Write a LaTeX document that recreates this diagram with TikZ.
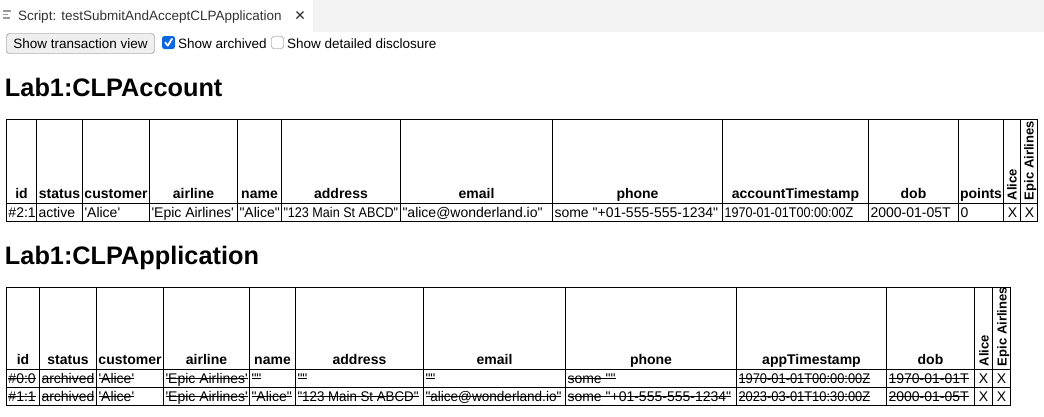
\documentclass[tikz,border=0pt]{standalone}
\usepackage{graphicx}
\usepackage{fontspec}
\newfontfamily\uifont{Liberation Sans}
\definecolor{tabbg}{HTML}{F3F3F3}
\definecolor{tabtext}{HTML}{333333}
\definecolor{btnfill}{HTML}{EFEFEF}
\definecolor{btnline}{HTML}{767676}
\definecolor{chkblue}{HTML}{0B67DF}
\definecolor{icongray}{HTML}{9A9A9A}
\newcommand{\strk}[1]{\setbox0\hbox{#1}\rlap{\rule[0.3em]{\wd0}{0.9pt}}\box0}
\tikzset{
  every node/.style={inner sep=0pt, outer sep=0pt},
  hdr/.style={font=\uifont\fontsize{14}{16}\selectfont\bfseries, anchor=base},
  rhdr/.style={font=\uifont\fontsize{13}{15}\selectfont\bfseries, anchor=base west, rotate=90},
  cell/.style={font=\uifont\fontsize{14}{16}\selectfont, anchor=base west},
  xcell/.style={font=\uifont\fontsize{14}{16}\selectfont, anchor=base},
  gridline/.style={line width=1pt, draw=black},
  htitle/.style={font=\uifont\fontsize{25.3}{30}\selectfont\bfseries, anchor=base west},
  ui/.style={font=\uifont\fontsize{13.5}{16}\selectfont, anchor=base west},
}
\begin{document}
\begin{tikzpicture}[x=1pt,y=-1pt]
\useasboundingbox (0,0) rectangle (1044,416);
\fill[white] (0,0) rectangle (1044,416);
% tab bar
\fill[tabbg] (313,0) rectangle (1044,32);
\draw[icongray, line width=1.2pt] (3,11) -- (11,11) (3,14.5) -- (8,14.5) (3,18) -- (10,18);
\node[ui, text=tabtext] (tabtitle) at (18,20) {Script: testSubmitAndAcceptCLPApplication};
\draw[tabtext, line width=1.1pt] (296.5,11.5) -- (303.5,18.5) (296.5,18.5) -- (303.5,11.5);
% controls
\draw[btnline, fill=btnfill, rounded corners=3pt] (6.5,33.5) rectangle (154.5,53.5);
\node[ui, anchor=base] (btn) at (80.5,48) {Show transaction view};
\fill[chkblue, rounded corners=2.5pt] (162,36) rectangle (175,49);
\draw[white, line width=1.8pt, line cap=round, line join=round] (165.2,42.6) -- (167.8,45.6) -- (172,38.8);
\node[ui] (archived) at (178,48) {Show archived};
\draw[btnline, fill=white, rounded corners=2.5pt] (271.5,36.5) rectangle (283.5,48.5);
\node[ui] (detailed) at (287,48) {Show detailed disclosure};
% headings
\node[htitle] (title1) at (5,96) {Lab1:CLPAccount};
\node[htitle] (title2) at (5,264) {Lab1:CLPApplication};
% ---------- table 1 ----------
\draw[gridline] (6.5,119.5) rectangle (1037.5,221.5);
\draw[gridline] (6.5,203.5) -- (1037.5,203.5);
\foreach \x in {36.5,82.5,149.5,237.5,281.5,400.5,552.5,722.5,868.5,958.5,1003.5,1020.5}
  \draw[gridline] (\x,119.5) -- (\x,221.5);
\foreach \i/\x/\txt in {1/21.5/{id},2/59.5/{status},3/116/{customer},4/193.5/{airline},5/259.5/{name},6/341/{address},7/476.5/{email},8/637.5/{phone},9/795.5/{accountTimestamp},10/913.5/{dob},11/981/{points}}
  \node[hdr] (t1h\i) at (\x,198.5) {\txt};
\node[rhdr] (t1h12) at (1016.5,200) {Alice};
\node[rhdr] (t1h13) at (1033.5,200) {Epic Airlines};
\foreach \i/\x/\s/\txt in {1/6.5/1/{\#2:1},2/36.5/1/{active},3/82.5/1/{'Alice'},4/149.5/1/{'Epic Airlines'},5/237.5/1/{"Alice"},6/281.5/0.9/{"123 Main St ABCD"},7/400.5/1/{"alice@wonderland.io"},8/552.5/1/{some "+01-555-555-1234"},9/722.5/0.9/{1970-01-01T00:00:00Z},10/868.5/1/{2000-01-05T},11/958.5/1/{0}}
  \node[cell] (t1d\i) at (\x+2,217.5) {\scalebox{\s}[1]{\txt}};
\node[xcell] (t1d12) at (1012.5,217.5) {X};
\node[xcell] (t1d13) at (1029.5,217.5) {X};
% ---------- table 2 ----------
\draw[gridline] (6.5,287.5) rectangle (1010.5,405.5);
\draw[gridline] (6.5,369.5) -- (1010.5,369.5);
\draw[gridline] (6.5,387.5) -- (1010.5,387.5);
\foreach \x in {39.5,96.5,163.5,249.5,295.5,423.5,565.5,736.5,886.5,974.5,992.5}
  \draw[gridline] (\x,287.5) -- (\x,405.5);
\foreach \i/\x/\txt in {1/23/{id},2/68/{status},3/130/{customer},4/206.5/{airline},5/272.5/{name},6/359.5/{address},7/494.5/{email},8/651/{phone},9/811.5/{appTimestamp},10/930.5/{dob}}
  \node[hdr] (t2h\i) at (\x,364.5) {\txt};
\node[rhdr] (t2h11) at (988.5,366) {Alice};
\node[rhdr] (t2h12) at (1006.5,366) {Epic Airlines};
\foreach \i/\x/\s/\txt in {1/6.5/1/{\#0:0},2/39.5/1/{archived},3/96.5/1/{'Alice'},4/163.5/1/{'Epic Airlines'},5/249.5/1/{""},6/295.5/1/{""},7/423.5/1/{""},8/565.5/1/{some ""},9/736.5/0.92/{1970-01-01T00:00:00Z},10/886.5/1/{1970-01-01T}}
  \node[cell] (t2a\i) at (\x+2,383.5) {\strk{\scalebox{\s}[1]{\txt}}};
\node[xcell] (t2a11) at (983.5,383.5) {X};
\node[xcell] (t2a12) at (1001.5,383.5) {X};
\foreach \i/\x/\s/\txt in {1/6.5/1/{\#1:1},2/39.5/1/{archived},3/96.5/1/{'Alice'},4/163.5/1/{'Epic Airlines'},5/249.5/1/{"Alice"},6/295.5/0.95/{"123 Main St ABCD"},7/423.5/0.97/{"alice@wonderland.io"},8/565.5/1/{some "+01-555-555-1234"},9/736.5/0.92/{2023-03-01T10:30:00Z},10/886.5/1/{2000-01-05T}}
  \node[cell] (t2b\i) at (\x+2,401.5) {\strk{\scalebox{\s}[1]{\txt}}};
\node[xcell] (t2b11) at (983.5,401.5) {X};
\node[xcell] (t2b12) at (1001.5,401.5) {X};
\end{tikzpicture}
\end{document}
